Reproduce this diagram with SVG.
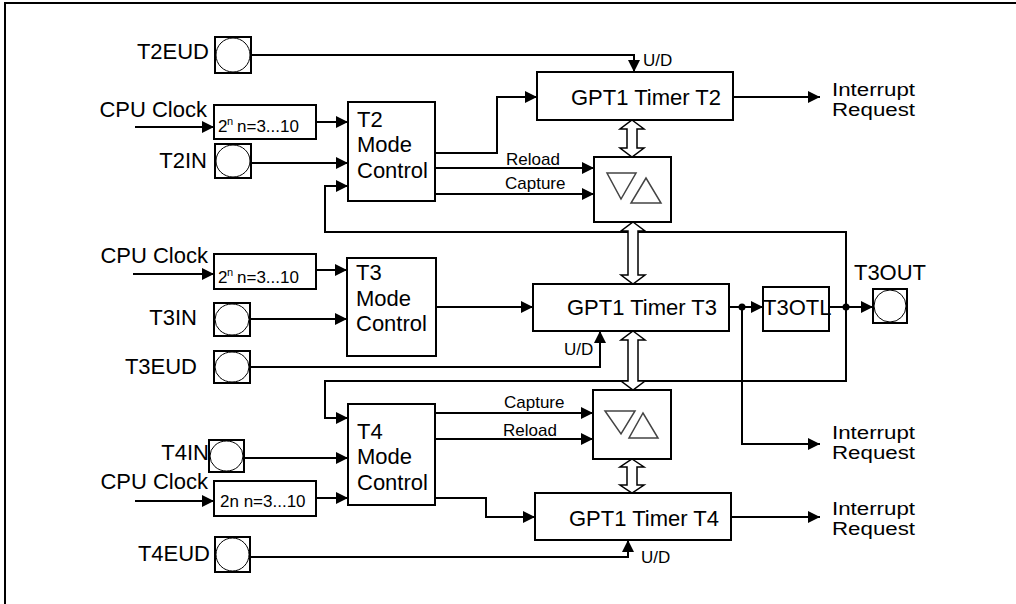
<svg xmlns="http://www.w3.org/2000/svg" width="1016" height="604" viewBox="0 0 1016 604">
<style>
.m{font-family:"Liberation Sans",Arial,sans-serif;font-size:22px;fill:#000}
.ir{font-family:"Liberation Sans",Arial,sans-serif;font-size:18px;fill:#000}
.s{font-family:"Liberation Sans",Arial,sans-serif;font-size:17px;fill:#000}
.box{fill:#fff;stroke:#000;stroke-width:2}
.pad{fill:#fff;stroke:#000;stroke-width:2}
.pc{fill:none;stroke:#000;stroke-width:1}
.ln{fill:none;stroke:#000;stroke-width:2}
.ln.a{marker-end:url(#ah)}
.tri{fill:none;stroke:#444;stroke-width:1.5}
.dbl{fill:#fff;stroke:#000;stroke-width:1.5}
.e{text-anchor:end}
</style>
<defs>
<marker id="ah" markerUnits="userSpaceOnUse" markerWidth="12" markerHeight="12" refX="12" refY="6" orient="auto">
<path d="M0,0 L12,6 L0,12 z" fill="#000"/>
</marker>
</defs>
<rect width="1016" height="604" fill="#fff"/>
<path d="M5,604 V3 H1016" fill="none" stroke="#000" stroke-width="2"/>

<g id="connectors">
<path class="ln a" d="M251,55 H634 V72"/>
<path class="ln a" d="M135,127 H214"/>
<path class="ln a" d="M316,122 H348"/>
<path class="ln a" d="M251,163 H348"/>
<path class="ln a" d="M846,307 V232 H325 V186 H348"/>
<path class="ln a" d="M846,307 V381 H325 V418 H348"/>
<path class="ln a" d="M435,153 H497 V97 H537"/>
<path class="ln a" d="M435,168 H594"/>
<path class="ln a" d="M435,194 H594"/>
<path class="ln a" d="M733,97 H820"/>
<path class="ln a" d="M133,274 H214"/>
<path class="ln a" d="M316,270 H347"/>
<path class="ln a" d="M250,319 H347"/>
<path class="ln a" d="M436,307 H533"/>
<path class="ln a" d="M250,367 H600 V331"/>
<path class="ln a" d="M729,307 H763"/>
<path class="ln a" d="M829,307 H873"/>
<path class="ln a" d="M742,307 V444 H820"/>
<path class="ln a" d="M135,501 H214"/>
<path class="ln a" d="M316,498 H348"/>
<path class="ln a" d="M244,458 H348"/>
<path class="ln a" d="M435,413 H593"/>
<path class="ln a" d="M435,439 H593"/>
<path class="ln a" d="M435,498 H486 V517 H535"/>
<path class="ln a" d="M250,557 H628 V540"/>
<path class="ln a" d="M731,517 H820"/>
<circle cx="742" cy="307" r="3.5" fill="#000"/>
<circle cx="846" cy="307" r="3.5" fill="#000"/>
<polygon class="dbl" points="632,120 644,129 637,129 637,148 644,148 632,157 620,148 627,148 627,129 620,129"/>
<polygon class="dbl" points="633,222 645,231 638,231 638,275 645,275 633,284 621,275 628,275 628,231 621,231"/>
<polygon class="dbl" points="633,331 645,340 638,340 638,381 645,381 633,390 621,381 628,381 628,340 621,340"/>
<polygon class="dbl" points="632,459 644,467 637,467 637,485 644,485 632,493 620,485 627,485 627,467 620,467"/>
<text class="s" x="643" y="66">U/D</text>
<text class="s" x="564" y="355">U/D</text>
<text class="s" x="641" y="563">U/D</text>
<text class="s" x="506" y="165">Reload</text>
<text class="s" x="505" y="189">Capture</text>
<text class="s" x="504" y="408">Capture</text>
<text class="s" x="503" y="436">Reload</text>
</g>

<g id="T2EUD"><rect class="pad" x="215" y="37" width="36" height="36"/><ellipse class="pc" cx="233" cy="55" rx="17" ry="17"/><text class="m e" x="209" y="59">T2EUD</text></g>
<g id="T2IN"><rect class="pad" x="215" y="144" width="36" height="34"/><ellipse class="pc" cx="233" cy="161" rx="17" ry="16"/><text class="m e" x="207" y="168">T2IN</text></g>
<g id="T3IN"><rect class="pad" x="214" y="303" width="36" height="33"/><ellipse class="pc" cx="232" cy="319.5" rx="17" ry="15.5"/><text class="m e" x="197" y="325">T3IN</text></g>
<g id="T3EUD"><rect class="pad" x="214" y="351" width="36" height="32"/><ellipse class="pc" cx="232" cy="367" rx="17" ry="15"/><text class="m e" x="197" y="374">T3EUD</text></g>
<g id="T4IN"><rect class="pad" x="209" y="440" width="35" height="32"/><ellipse class="pc" cx="226.5" cy="456" rx="16.5" ry="15"/><text class="m e" x="209" y="460">T4IN</text></g>
<g id="T4EUD"><rect class="pad" x="215" y="537" width="35" height="35"/><ellipse class="pc" cx="232.5" cy="554.5" rx="16.5" ry="16.5"/><text class="m e" x="210" y="561">T4EUD</text></g>
<g id="T3OUT"><rect class="pad" x="873" y="289" width="34" height="34"/><ellipse class="pc" cx="890" cy="306" rx="16" ry="16"/><text class="m" x="890" y="280" text-anchor="middle">T3OUT</text></g>

<g id="clk1"><text class="m e" x="207" y="117">CPU Clock</text><rect class="box" x="214" y="105" width="102" height="34"/><text class="s" y="132"><tspan x="218">2</tspan><tspan x="227" y="125" font-size="11">n</tspan><tspan x="237" y="132">n=3...10</tspan></text></g>
<g id="clk2"><text class="m e" x="208" y="263">CPU Clock</text><rect class="box" x="214" y="254" width="102" height="35"/><text class="s" y="283"><tspan x="218">2</tspan><tspan x="227" y="276" font-size="11">n</tspan><tspan x="237" y="283">n=3...10</tspan></text></g>
<g id="clk3"><text class="m e" x="208" y="489">CPU Clock</text><rect class="box" x="214" y="481" width="102" height="35"/><text class="s" x="220" y="507">2n n=3...10</text></g>

<g id="T2MC"><rect class="box" x="348" y="102" width="87" height="99"/><text class="m" x="357" y="127">T2</text><text class="m" x="357" y="152">Mode</text><text class="m" x="357" y="178">Control</text></g>
<g id="T3MC"><rect class="box" x="347" y="258" width="89" height="98"/><text class="m" x="356" y="280">T3</text><text class="m" x="356" y="306">Mode</text><text class="m" x="356" y="331">Control</text></g>
<g id="T4MC"><rect class="box" x="348" y="404" width="87" height="101"/><text class="m" x="357" y="439">T4</text><text class="m" x="357" y="464">Mode</text><text class="m" x="357" y="490">Control</text></g>

<g id="GPT1T2"><rect class="box" x="537" y="72" width="196" height="48"/><text class="m" x="571" y="105">GPT1 Timer T2</text></g>
<g id="GPT1T3"><rect class="box" x="533" y="284" width="196" height="47"/><text class="m" x="567" y="315">GPT1 Timer T3</text></g>
<g id="GPT1T4"><rect class="box" x="535" y="493" width="196" height="47"/><text class="m" x="569" y="526">GPT1 Timer T4</text></g>

<g id="CR2"><rect class="box" x="594" y="157" width="77" height="65"/><polygon class="tri" points="607,173 636,173 621,199"/><polygon class="tri" points="631,203 661,203 646,178"/></g>
<g id="CR4"><rect class="box" x="593" y="390" width="78" height="69"/><polygon class="tri" points="605,411 635,411 621,434"/><polygon class="tri" points="629,438 658,438 643,413"/></g>

<g id="T3OTL"><rect class="box" x="763" y="287" width="66" height="44"/><text class="m" x="763" y="315">T3OTL</text></g>

<g id="IR2"><text class="ir" x="832" y="96" textLength="83" lengthAdjust="spacingAndGlyphs">Interrupt</text><text class="ir" x="832" y="116" textLength="83" lengthAdjust="spacingAndGlyphs">Request</text></g>
<g id="IR3"><text class="ir" x="832" y="439" textLength="83" lengthAdjust="spacingAndGlyphs">Interrupt</text><text class="ir" x="832" y="459" textLength="83" lengthAdjust="spacingAndGlyphs">Request</text></g>
<g id="IR4"><text class="ir" x="832" y="515" textLength="83" lengthAdjust="spacingAndGlyphs">Interrupt</text><text class="ir" x="832" y="535" textLength="83" lengthAdjust="spacingAndGlyphs">Request</text></g>
</svg>
